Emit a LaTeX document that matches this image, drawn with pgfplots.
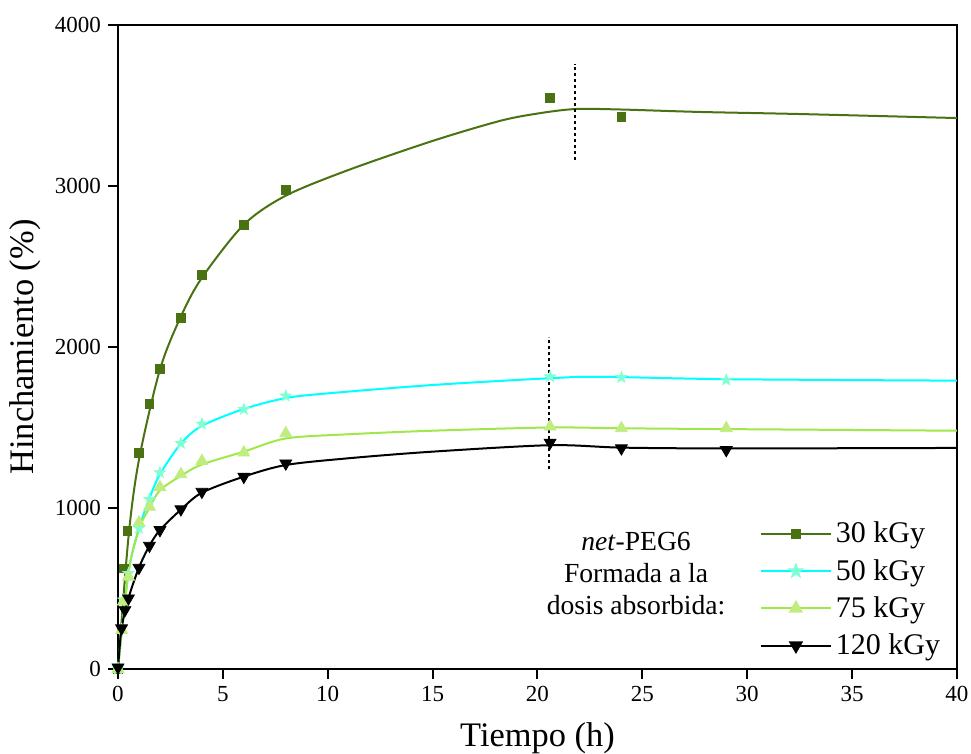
\documentclass[border=0pt]{standalone}
\usepackage{fontspec}
\setmainfont{Liberation Serif}
\usepackage{pgfplots}
\pgfplotsset{compat=1.18}

\definecolor{c30}{RGB}{74,114,18}
\definecolor{c50}{RGB}{0,255,255}
\definecolor{m50}{RGB}{127,255,212}
\definecolor{c75}{RGB}{160,232,72}
\definecolor{m75}{RGB}{192,236,128}

% filled five-point star
\pgfdeclareplotmark{fstar}{%
  \pgfpathmoveto{\pgfpointpolar{90}{1.25\pgfplotmarksize}}%
  \pgfpathlineto{\pgfpointpolar{126}{0.5\pgfplotmarksize}}%
  \pgfpathlineto{\pgfpointpolar{162}{1.25\pgfplotmarksize}}%
  \pgfpathlineto{\pgfpointpolar{198}{0.5\pgfplotmarksize}}%
  \pgfpathlineto{\pgfpointpolar{234}{1.25\pgfplotmarksize}}%
  \pgfpathlineto{\pgfpointpolar{270}{0.5\pgfplotmarksize}}%
  \pgfpathlineto{\pgfpointpolar{306}{1.25\pgfplotmarksize}}%
  \pgfpathlineto{\pgfpointpolar{342}{0.5\pgfplotmarksize}}%
  \pgfpathlineto{\pgfpointpolar{18}{1.25\pgfplotmarksize}}%
  \pgfpathlineto{\pgfpointpolar{54}{0.5\pgfplotmarksize}}%
  \pgfpathclose\pgfusepathqfillstroke}

\begin{document}
\begin{tikzpicture}
\useasboundingbox (-59pt,-42.5pt) rectangle (426.5pt,334.5pt);
\begin{axis}[
  scale only axis, width=419.5pt, height=322pt,
  xmin=0, xmax=40, ymin=0, ymax=4000,
  xtick={0,5,...,40}, ytick={0,1000,...,4000},
  tick pos=left, tick align=outside, major tick length=5pt,
  axis line style={line width=1pt}, every tick/.style={black, line width=1pt},
  /pgf/number format/assume math mode=true,
  /pgf/number format/1000 sep={},
  tick label style={font=\fontsize{11.5}{14}\selectfont},
  xlabel={Tiempo (h)}, ylabel={Hinchamiento (\%)},
  label style={font=\fontsize{17.2}{20}\selectfont},
  xlabel style={at={(axis description cs:0.5,-0.108)}, anchor=center},
  ylabel style={at={(axis description cs:-0.11,0.5)}, anchor=center},
  legend style={at={(axis cs:30.3,965)}, anchor=north west, draw=none, fill=none,
    font=\fontsize{15}{18}\selectfont, row sep=2.7pt},
  legend cell align=left,
  legend image code/.code={\draw[mark repeat=2,mark phase=2,#1] plot coordinates {(0pt,0pt) (17.5pt,0pt) (35pt,0pt)};},
]
% fitted curves
\addplot[c30, line width=1pt, smooth, forget plot] coordinates {
 (0,0) (0.5,820) (1,1300) (2,1860) (3,2190) (4,2430) (6,2760) (8,2940)
 (11,3100) (15,3280) (18.2,3404) (20,3450) (21.8,3478) (24,3475)
 (27.7,3460) (32.5,3447) (40,3422)};
\addplot[c50, line width=1pt, smooth, forget plot] coordinates {
 (0,0) (0.5,600) (1,870) (1.5,1060) (2,1210) (3,1400) (4,1510) (6,1615)
 (8,1683) (10,1712) (15,1764) (20.6,1806) (23,1815) (29,1800) (40,1791)};
\addplot[c75, line width=1pt, smooth, forget plot] coordinates {
 (0,0) (0.5,600) (1,870) (1.5,1000) (2,1110) (3,1200) (4,1270) (6,1350)
 (8,1432) (11,1458) (15,1480) (20.6,1500) (24,1495) (29,1490) (40,1480)};
\addplot[black, line width=1pt, smooth, forget plot] coordinates {
 (0,0) (0.17,253) (0.5,440) (1,630) (1.5,766) (2,863) (3,990) (4,1095)
 (6,1195) (8,1267) (11,1309) (15,1350) (20.6,1390) (24,1375) (29,1370) (40,1373)};
% measured points
\addplot[only marks, mark=square*, mark size=2.2pt, color=c30, forget plot] coordinates {
 (0,0) (0.3,625) (0.45,859) (1,1342) (1.5,1646) (2,1863) (3,2180) (4,2447)
 (6,2758) (8,2975) (20.6,3547) (24,3429)};
\addplot[only marks, mark=fstar, mark size=2.3pt, color=m50, forget plot] coordinates {
 (0,0) (0.25,430) (0.5,594) (1,874) (1.5,1054) (2,1220) (3,1402) (4,1522)
 (6,1613) (8,1696) (20.6,1816) (24,1811) (29,1795)};
\addplot[only marks, mark=triangle*, mark size=3.4pt, color=m75, forget plot] coordinates {
 (0,0) (0.17,242) (0.25,418) (0.5,573) (1,909) (1.5,1008) (2,1129) (3,1209)
 (4,1292) (6,1344) (8,1464) (20.6,1505) (24,1495) (29,1495)};
\addplot[only marks, mark=triangle*, mark size=3.4pt, mark options={rotate=180}, color=black, forget plot] coordinates {
 (0,10) (0.17,253) (0.33,366) (0.5,439) (1,629) (1.5,766) (2,863) (3,992)
 (4,1101) (6,1194) (8,1277) (20.6,1406) (24,1371) (29,1360)};
% dotted markers
\addplot[black, line width=1.2pt, dash pattern=on 1.5pt off 1.5pt, forget plot] coordinates {(21.8,3160) (21.8,3760)};
\addplot[black, line width=1.2pt, dash pattern=on 1.5pt off 1.5pt, forget plot] coordinates {(20.55,1240) (20.55,2060)};
% legend
\addlegendimage{c30, line width=1pt, mark=square*, mark size=2.2pt}
\addlegendentry{30 kGy}
\addlegendimage{c50, line width=1pt, mark=fstar, mark size=2.3pt, mark options={color=m50}}
\addlegendentry{50 kGy}
\addlegendimage{c75, line width=1pt, mark=triangle*, mark size=3.2pt, mark options={color=m75}}
\addlegendentry{75 kGy}
\addlegendimage{black, line width=1pt, mark=triangle*, mark size=3.2pt, mark options={rotate=180}}
\addlegendentry{120 kGy}
\node[align=center, font=\fontsize{13.8}{16}\selectfont] at (axis cs:24.7,590)
  {\textit{net}-PEG6\\Formada a la\\dosis absorbida:};
\end{axis}
\end{tikzpicture}
\end{document}
